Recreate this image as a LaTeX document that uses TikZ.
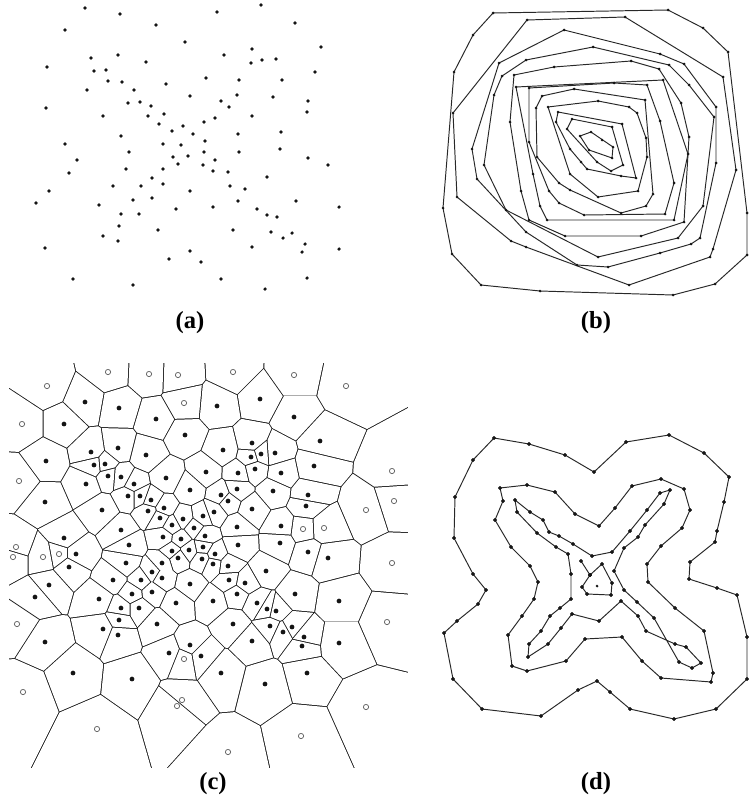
\documentclass[tikz,border=0pt]{standalone}
\usepackage{fontspec}
\setmainfont{Liberation Serif}
\definecolor{inkBlack}{RGB}{20,20,20}
\definecolor{lineGray}{RGB}{40,40,40}
\definecolor{ringGray}{RGB}{105,105,105}

\def\scatterPts{85/8,120/14,156/25,65/30,185/42,91/58,118/55,146/62,47/67,94/71,106/70,108/81,122/82,166/84,87/90,134/90,190/96,46/108,128/103,140/102,151/106,103/116,148/116,164/114,159/124,183/126,172/131,193/134,121/136,65/144,163/144,181/145,129/152,77/160,173/157,188/156,178/164,69/173,126/169,163/169,152/178,113/186,141/186,163/184,49/191,190/191,36/203,99/205,133/200,152/198,176/209,121/214,139/214,119/226,158/230,103/236,118/241,45/248,190/251,169/259,73/279,133/285,261/5,217/12,295/23,321/47,224/55,252/49,251/63,262/60,276/59,315/72,206/78,239/80,282/80,237/95,221/101,229/107,273/97,308/101,307/112,215/118,204/122,252/116,238/134,281/132,205/141,204/152,239/152,280/149,308/158,328/165,215/160,203/165,213/171,228/172,267/177,230/186,245/189,238/201,296/201,339/207,213/207,257/209,267/215,277/217,233/230,271/232,283/238,292/233,305/244,302/252,339/249,252/247,201/262,221/279,307/278,265/289}

\def\layerPts{493/13,527/20,473/35,564/30,593/47,454/72,499/63,526/60,554/67,502/76,514/75,516/87,529/88,574/89,453/113,494/95,542/96,536/108,548/107,558/112,510/122,572/119,567/129,580/136,529/142,472/149,570/149,589/150,537/157,484/165,581/162,587/169,533/174,570/174,477/179,559/183,570/190,521/191,549/191,457/197,559/203,540/206,443/208,506/210,584/215,547/220,529/220,526/232,565/236,511/241,526/247,452/254,577/265,481/285,540/291,556/122,668/10,625/17,703/28,728/52,660/54,631/61,669/65,684/64,659/69,723/77,663/80,614/83,647/85,689/85,598/101,645/100,681/103,716/107,629/107,637/113,714/117,660/121,622/124,612/127,591/132,602/140,689/137,646/138,613/147,688/154,647/157,612/158,597/162,716/163,623/165,611/171,736/170,621/176,636/178,674/183,638/191,653/194,598/197,646/206,703/206,621/213,665/214,747/213,674/220,684/222,641/236,678/238,700/238,691/244,713/249,747/255,598/257,660/253,710/257,608/267,629/285,715/284,673/295}

\def\siteFilled{85/402,119/408,156/419,64/424,185/435,91/452,118/448,146/455,46/461,94/465,105/464,108/476,121/477,206/472,86/484,134/484,166/478,190/490,128/496,140/496,151/500,45/502,148/511,164/508,102/510,160/518,183/519,203/516,172/525,194/528,121/530,163/537,181/539,205/536,64/538,129/545,203/547,76/554,69/567,49/585,35/597,126/563,113/580,99/599,141/580,152/572,162/563,172/551,189/550,178/558,202/559,213/564,162/578,132/594,152/592,190/584,176/603,213/601,121/608,139/608,119/620,157/624,103/629,118/635,45/642,169/653,190/645,201/656,73/673,132/679,238/545,280/543,308/552,328/558,215/554,228/566,266/571,229/580,245/583,295/594,339/601,237/594,257/603,267/609,276/611,233/624,270/626,283/632,292/627,304/637,302/646,252/641,339/643,307/673,221/673,265/684,217/406,260/399,294/417,320/441,223/450,252/443,251/457,261/454,275/453,255/469,238/473,281/473,314/466,237/489,221/495,228/501,273/491,308/495,306/506,252/509,214/512,237/527,281/526}
\def\siteHollow{108/372,149/374,178/375,47/386,184/403,22/424,19/481,16/547,13/557,43/557,59/554,17/624,23/692,97/729,184/659,182/700,177/706,233/372,294/375,346/386,392/471,394/501,366/510,303/529,324/528,392/563,387/622,366/707,301/736,228/752}
\edef\siteAll{\siteFilled,\siteHollow}

% convex layers, peeled by gift wrapping
\newcount\lyN \newcount\lyI \newcount\lyP \newcount\lyQ \newcount\lyS
\newcount\lySafe \newcount\lyCross \newcount\lyDq \newcount\lyDr
\def\lyX#1{\csname lyx\number#1\endcsname}
\def\lyY#1{\csname lyy\number#1\endcsname}
\def\lyD#1{\csname lyd\number#1\endcsname}
\def\lyFindStart{\lyS=0 \lyI=0 \lyFindStartStep}
\def\lyFindStartStep{%
  \advance\lyI by 1
  \let\lyNext\relax
  \ifnum\lyI>\lyN\relax\else
    \let\lyNext\lyFindStartStep
    \ifnum\lyD\lyI=0
      \ifnum\lyS=0 \lyS=\lyI
      \else
        \ifnum\lyX\lyI<\lyX\lyS\relax \lyS=\lyI
        \else
          \ifnum\lyX\lyI=\lyX\lyS\relax
            \ifnum\lyY\lyI<\lyY\lyS\relax \lyS=\lyI\fi
          \fi
        \fi
      \fi
    \fi
  \fi
  \lyNext}
\def\lyNextPoint{\lyQ=0 \lyI=0 \lyNextPointStep}
\def\lyNextPointStep{%
  \advance\lyI by 1
  \let\lyNext\relax
  \ifnum\lyI>\lyN\relax\else
    \let\lyNext\lyNextPointStep
    \ifnum\lyD\lyI=0
      \ifnum\lyI=\lyP\else
        \ifnum\lyQ=0 \lyQ=\lyI
        \else
          \lyCross=\numexpr(\lyX\lyQ-\lyX\lyP)*(\lyY\lyI-\lyY\lyP)-(\lyY\lyQ-\lyY\lyP)*(\lyX\lyI-\lyX\lyP)\relax
          \ifnum\lyCross<0 \lyQ=\lyI
          \else
            \ifnum\lyCross=0
              \lyDq=\numexpr(\lyX\lyQ-\lyX\lyP)*(\lyX\lyQ-\lyX\lyP)+(\lyY\lyQ-\lyY\lyP)*(\lyY\lyQ-\lyY\lyP)\relax
              \lyDr=\numexpr(\lyX\lyI-\lyX\lyP)*(\lyX\lyI-\lyX\lyP)+(\lyY\lyI-\lyY\lyP)*(\lyY\lyI-\lyY\lyP)\relax
              \ifnum\lyDr>\lyDq \lyQ=\lyI\fi
            \fi
          \fi
        \fi
      \fi
    \fi
  \fi
  \lyNext}
\def\lyWrap{%
  \lyNextPoint
  \advance\lySafe by 1
  \let\lyMore\relax
  \ifnum\lyQ>0
    \ifnum\lyQ=\lyS\else
      \ifnum\lySafe<400
        \edef\lyPath{\lyPath -- (\lyX\lyQ,\lyY\lyQ)}%
        \edef\lyList{\lyList,\number\lyQ}%
        \lyP=\lyQ
        \let\lyMore\lyWrap
      \fi
    \fi
  \fi
  \lyMore}
\def\lyPeel{%
  \lyFindStart
  \let\lyAgain\relax
  \ifnum\lyS>0
    \lyP=\lyS
    \edef\lyPath{(\lyX\lyS,\lyY\lyS)}%
    \edef\lyList{\number\lyS}%
    \lySafe=0
    \lyWrap
    \foreach \k in \lyList {\expandafter\xdef\csname lyd\k\endcsname{1}}%
    \edef\lyCmd{\noexpand\draw[layerline] \lyPath -- cycle;}%
    \lyCmd
    \let\lyAgain\lyPeel
  \fi
  \lyAgain}

% one Voronoi cell, cut out by the bisectors of its neighbours
\newcommand{\vorCell}[3]{%
  \begin{scope}
    \foreach \bx/\by in \siteAll {%
      \ifnum\numexpr(#1-\bx)*(#1-\bx)+(#2-\by)*(#2-\by)\relax>0
      \ifnum\numexpr(#1-\bx)*(#1-\bx)+(#2-\by)*(#2-\by)\relax<#3
        \pgfmathsetmacro\vd{veclen(#1-\bx,#2-\by)}%
        \pgfmathsetmacro\vnx{(#1-\bx)/\vd}%
        \pgfmathsetmacro\vny{(#2-\by)/\vd}%
        \pgfmathsetmacro\vcx{(#1+\bx)/2+0.5*(\vnx)}%
        \pgfmathsetmacro\vcy{(#2+\by)/2+0.5*(\vny)}%
        \pgfmathsetmacro\vLx{900*(\vnx)}%
        \pgfmathsetmacro\vLy{900*(\vny)}%
        \clip ({\vcx-(\vLy)},{\vcy+(\vLx)}) -- ++(\vLx,\vLy)
          -- ({\vcx+(\vLy)+(\vLx)},{\vcy-(\vLx)+(\vLy)})
          -- ({\vcx+(\vLy)},{\vcy-(\vLx)}) -- cycle;
      \fi\fi
    }
    \fill[white] (9,363) rectangle (408,768);
  \end{scope}}

\begin{document}
\begin{tikzpicture}[x=0.02cm,y=-0.02cm,line join=round,
  layerline/.style={lineGray,line width=0.55pt},
  ringline/.style={lineGray,line width=0.55pt,mark=*,mark size=0.85pt,mark options={inkBlack}},
  panelTag/.style={inner sep=0pt,font=\bfseries\fontsize{14}{16}\selectfont}]
\path[use as bounding box,fill=white] (0,0) rectangle (749,801);

% (a)
\foreach \x/\y in \scatterPts {\fill[inkBlack] (\x,\y) circle (1pt);}
\node[panelTag] (tagA) at (190,323) {(a)};

% (b)
\lyN=0
\foreach \x/\y in \layerPts {%
  \global\advance\lyN by 1
  \expandafter\xdef\csname lyx\the\lyN\endcsname{\x}%
  \expandafter\xdef\csname lyy\the\lyN\endcsname{\y}%
  \expandafter\xdef\csname lyd\the\lyN\endcsname{0}%
}
\lyPeel
\foreach \x/\y in \layerPts {\fill[inkBlack] (\x,\y) circle (0.85pt);}
\node[panelTag] (tagB) at (596,323) {(b)};

% (c)
\begin{scope}
  \clip (9,363) rectangle (408,768);
  \fill[inkBlack] (9,363) rectangle (408,768);
  \foreach \ax/\ay in \siteFilled {\vorCell{\ax}{\ay}{14400}}
  \foreach \ax/\ay in \siteHollow {\vorCell{\ax}{\ay}{40000}}
\end{scope}
\foreach \x/\y in \siteFilled {\fill[inkBlack] (\x,\y) circle (1.35pt);}
\foreach \x/\y in \siteHollow {\draw[ringGray,line width=0.45pt] (\x,\y) circle (1.5pt);}
\node[panelTag] (tagC) at (213,784) {(c)};

% (d)
\draw[ringline] plot coordinates {(494,438) (529,444) (565,455) (594,472) (626,442) (669,435) (704,453) (729,477) (724,502) (717,531) (715,542) (690,562) (689,579) (717,588) (737,595) (747,637) (747,679) (716,709) (674,719) (630,709) (610,692) (597,681) (578,690) (541,716) (482,709) (453,679) (444,633) (457,621) (478,604) (486,590) (473,574) (454,538) (455,497) (473,460)} -- cycle;
\draw[ringline] plot coordinates {(500,488) (527,485) (555,492) (575,514) (599,526) (615,508) (632,486) (661,479) (684,489) (690,510) (682,528) (661,546) (647,564) (648,582) (675,608) (704,631) (713,673) (711,682) (661,678) (642,661) (622,637) (585,639) (566,661) (527,671) (512,666) (508,635) (522,616) (534,599) (538,582) (530,566) (511,547) (495,520) (503,501)} -- cycle;
\draw[ringline] plot coordinates {(515,500) (530,512) (543,520) (549,532) (559,536) (573,544) (592,556) (612,552) (630,531) (647,510) (660,493) (670,490) (664,504) (645,525) (638,537) (624,548) (614,571) (624,590) (637,602) (654,618) (679,662) (692,668) (701,663) (686,647) (675,644) (646,631) (638,616) (621,601) (599,621) (572,614) (561,628) (548,644) (528,657) (529,644) (541,631) (550,616) (560,608) (571,599) (571,574) (568,554) (556,547) (537,533) (517,512)} -- cycle;
\draw[ringline] plot coordinates {(590,575) (602,564) (612,583) (611,595) (587,594) (582,587)} -- cycle;
\draw[ringline] plot coordinates {(581,561) (590,575)};
\fill[inkBlack] (597,586) circle (0.85pt);
\node[panelTag] (tagD) at (596,784) {(d)};
\end{tikzpicture}
\end{document}
